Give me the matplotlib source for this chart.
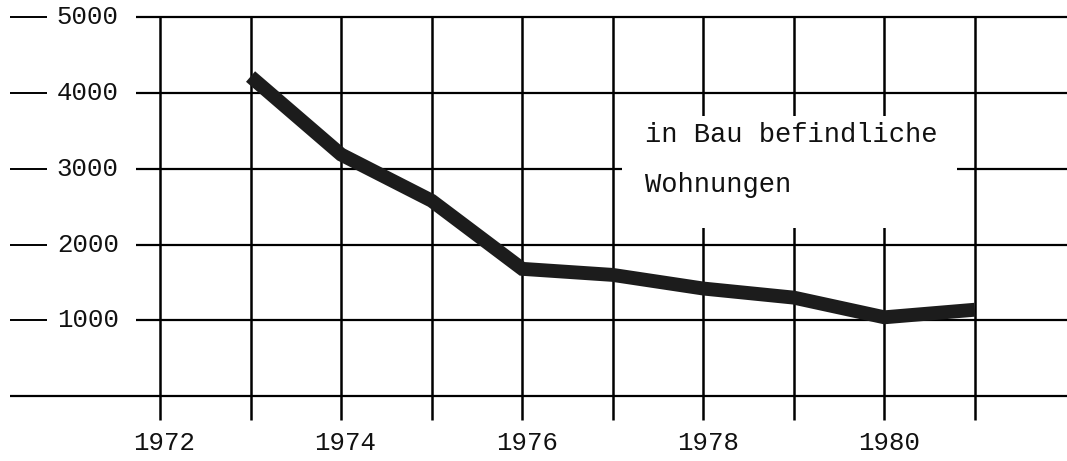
import numpy as np
import matplotlib
matplotlib.use('Agg')
import matplotlib.pyplot as plt
from matplotlib.patches import Rectangle

# Daten: in Bau befindliche Wohnungen
jahre = [1973, 1974, 1975, 1976, 1977, 1978, 1979, 1980, 1981]
wohnungen = [4220, 3190, 2580, 1680, 1600, 1420, 1300, 1040, 1140]

y_ticks = [1000, 2000, 3000, 4000, 5000]
x_ticks = [1972, 1974, 1976, 1978, 1980]
grid_jahre = list(range(1972, 1982))

font = 'Liberation Mono'

fig = plt.figure(figsize=(10.67, 4.61), dpi=100)
ax = fig.add_axes([0, 0, 1, 1])
ax.set_xlim(1970.233, 1982.017)
ax.set_ylim(-858, 5231)
ax.axis('off')

# Gitter
ax.hlines(y_ticks, 1971.73, 1982.017, color='black', lw=1.6, zorder=1)
ax.hlines(0, 1970.34, 1982.017, color='black', lw=1.6, zorder=1)
ax.vlines(grid_jahre, -317, 5000, color='black', lw=1.8, zorder=1)

# y-Beschriftung mit Strich
ax.hlines(y_ticks, 1970.34, 1970.75, color='black', lw=1.4)
for v in y_ticks:
    ax.text(1970.86, v, str(v), ha='left', va='center', fontsize=18.5,
            family=font, color='#111111')

for j in x_ticks:
    ax.text(j + 0.05, -620, str(j), ha='center', va='center', fontsize=18.5,
            family=font, color='#111111')

# weisses Feld fuer die Beschriftung
ax.add_patch(Rectangle((1977.104, 2215), 3.70, 1490, facecolor='white',
                       edgecolor='none', zorder=2))
ax.text(1977.36, 3355, 'in Bau befindliche', ha='left', va='baseline',
        fontsize=19.5, family=font, color='#111111', zorder=3)
ax.text(1977.36, 2700, 'Wohnungen', ha='left', va='baseline',
        fontsize=19.5, family=font, color='#111111', zorder=3)

# Kurve
ax.plot(jahre, wohnungen, color='#1c1c1c', lw=10, solid_joinstyle='miter',
        solid_capstyle='butt', zorder=4)

fig.savefig('out.png', dpi=100)
